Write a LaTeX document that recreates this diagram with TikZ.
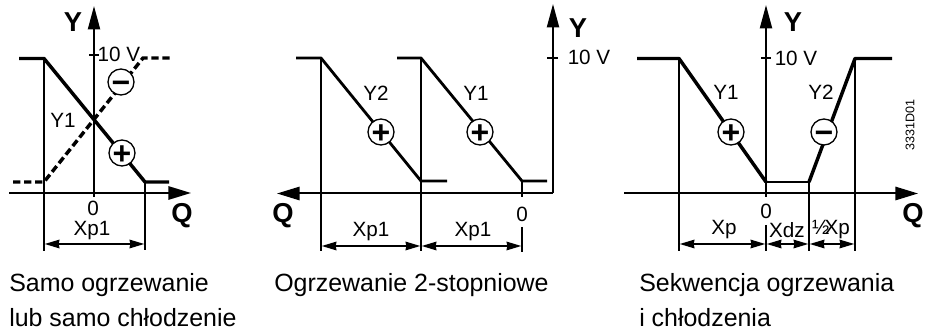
\documentclass[tikz,border=0pt]{standalone}
\usepackage{fontspec}
\setmainfont{Liberation Sans}
\usetikzlibrary{arrows.meta}
\newcommand{\signglyph}[1]{\raisebox{-8.3pt}[0pt][0pt]{#1}}
\tikzset{
  axis/.style={line width=1.5pt,-{Triangle[length=17pt,width=10pt]}},
  axisb/.style={line width=1.5pt,-{Triangle[length=17.5pt,width=9pt]}},
  guide/.style={line width=1.3pt},
  curve/.style={line width=2.6pt,line cap=butt,line join=round},
  thin curve/.style={line width=2.1pt,line join=round},
  dcurve/.style={line width=2.6pt,dash pattern=on 5.5pt off 2.75pt},
  dim/.style={line width=1pt,{Stealth[length=11pt,width=6.5pt,inset=0.6pt]}-{Stealth[length=11pt,width=6.5pt,inset=0.6pt]},shorten <=0.6pt,shorten >=0.6pt},
  sign/.style={circle,draw,fill=white,line width=1pt,minimum size=19.5pt,inner sep=0pt,font=\fontsize{24}{24}\selectfont\bfseries},
  lab/.style={inner sep=0pt,font=\fontsize{15.5}{17}\selectfont},
  big/.style={inner sep=0pt,font=\fontsize{20.5}{22}\selectfont\bfseries},
  captext/.style={inner sep=0pt,anchor=base west,font=\fontsize{18.7}{22}\selectfont}
}
\begin{document}
\begin{tikzpicture}[x=0.75pt,y=-0.75pt]
\useasboundingbox (0,0) rectangle (928,334);
% ---------- panel 1
\coordinate (a1) at (94,197); \coordinate (a2) at (94,6);
\coordinate (a3) at (9,193); \coordinate (a4) at (191,193);
\coordinate (t1) at (89,55); \coordinate (t2) at (99,55);
\coordinate (v1a) at (44,58); \coordinate (v1b) at (44,251);
\coordinate (v2a) at (145,182); \coordinate (v2b) at (145,250);
\coordinate (c1) at (19,58.5); \coordinate (c2) at (44,58.5);
\coordinate (c3) at (145,182); \coordinate (c4) at (169,182);
\coordinate (d1) at (13,182); \coordinate (d2) at (44,182);
\coordinate (d3) at (143,58); \coordinate (d4) at (170,58);
\draw[axis] (a3) -- (a4);
\draw[axisb] (a1) -- (a2);
\draw[guide] (t1) -- (t2);
\draw[guide] (v1a) -- (v1b);
\draw[guide] (v2a) -- (v2b);
\draw[curve] (c1) -- (c2) -- (c3) -- (c4);
\draw[dcurve] (d1) -- (d2) -- (d3) -- (d4);
\coordinate (dm1) at (44,244); \coordinate (dm2) at (145,244);
\draw[dim] (dm1) -- (dm2);
\node[sign] (s1) at (121,82) {\signglyph{−}};
\node[sign] (s2) at (122,153) {\signglyph{+}};
\node[big] (y1) at (73,22) {Y};
\node[lab] (l1) at (119,54) {10 V};
\node[lab] (l2) at (63,120) {Y1};
\node[lab] (l3) at (93,208) {0};
\node[lab] (l4) at (92,231) {Xp1};
\node[big] (q1) at (182,216) {Q};
% ---------- panel 2
\coordinate (b1) at (553,193.5); \coordinate (b2) at (553,4);
\coordinate (b3) at (553,193.5); \coordinate (b4) at (277,193.5);
\coordinate (bt1) at (547,58); \coordinate (bt2) at (558,58);
\coordinate (w1a) at (321,58); \coordinate (w1b) at (321,251);
\coordinate (w2a) at (421,58); \coordinate (w2b) at (421,251);
\coordinate (w3a) at (522,181); \coordinate (w3b) at (522,197);
\coordinate (w3c) at (522,227); \coordinate (w3d) at (522,252);
\coordinate (e1) at (296,58); \coordinate (e2) at (321,58);
\coordinate (e3) at (421,181); \coordinate (e4) at (447,181);
\coordinate (f1) at (397,58); \coordinate (f2) at (421,58);
\coordinate (f3) at (522,181); \coordinate (f4) at (547,181);
\draw[axis] (b3) -- (b4);
\draw[axisb] (b1) -- (b2);
\draw[guide] (bt1) -- (bt2);
\draw[guide] (w1a) -- (w1b);
\draw[guide] (w2a) -- (w2b);
\draw[guide] (w3a) -- (w3b);
\draw[guide] (w3c) -- (w3d);
\draw[thin curve] (e1) -- (e2) -- (e3) -- (e4);
\draw[thin curve] (f1) -- (f2) -- (f3) -- (f4);
\coordinate (dn1) at (321,246); \coordinate (dn2) at (421,246); \coordinate (dn3) at (522,246);
\draw[dim] (dn1) -- (dn2);
\draw[dim] (dn2) -- (dn3);
\node[sign] (s3) at (381,132) {\signglyph{+}};
\node[sign] (s4) at (480,132) {\signglyph{+}};
\node[big] (y2) at (578,28) {Y};
\node[lab] (l5) at (589,57) {10 V};
\node[lab] (l6) at (376,93) {Y2};
\node[lab] (l7) at (476,93) {Y1};
\node[lab] (l8) at (522,214) {0};
\node[lab] (l9) at (371,232) {Xp1};
\node[lab] (l10) at (473,232) {Xp1};
\node[big] (q2) at (283,216) {Q};
% ---------- panel 3
\coordinate (g1) at (766,197); \coordinate (g2) at (766,5);
\coordinate (g3) at (624,193.5); \coordinate (g4) at (918,193.5);
\coordinate (gt1) at (761,58); \coordinate (gt2) at (771,58);
\coordinate (x1a) at (679,58); \coordinate (x1b) at (679,251);
\coordinate (x2a) at (766,225); \coordinate (x2b) at (766,251);
\coordinate (x3a) at (809,182); \coordinate (x3b) at (809,251);
\coordinate (x4a) at (855,58); \coordinate (x4b) at (855,251);
\coordinate (h1) at (637,58.5); \coordinate (h2) at (679,58.5);
\coordinate (h3) at (766,182); \coordinate (h4) at (809,182);
\coordinate (h5) at (855,58.5); \coordinate (h6) at (892,58.5);
\draw[axis] (g3) -- (g4);
\draw[axisb] (g1) -- (g2);
\draw[guide] (gt1) -- (gt2);
\draw[guide] (x1a) -- (x1b);
\draw[guide] (x2a) -- (x2b);
\draw[guide] (x3a) -- (x3b);
\draw[guide] (x4a) -- (x4b);
\draw[curve] (h1) -- (h2) -- (h3);
\draw[guide] (h3) -- (h4);
\draw[curve] (h4) -- (h5) -- (h6);
\coordinate (do1) at (679,244); \coordinate (do2) at (766,244);
\coordinate (do3) at (809,244); \coordinate (do4) at (855,244);
\draw[dim] (do1) -- (do2);
\draw[dim] (do2) -- (do3);
\draw[dim] (do3) -- (do4);
\node[sign] (s5) at (731,132) {\signglyph{+}};
\node[sign] (s6) at (824,132) {\signglyph{−}};
\node[big] (y3) at (793,22) {Y};
\node[lab] (l11) at (796,58) {10 V};
\node[lab] (l12) at (726,92) {Y1};
\node[lab] (l13) at (821,92) {Y2};
\node[lab] (l14) at (766,211) {0};
\node[lab] (l15) at (724,230) {Xp};
\node[lab] (l16) at (787,230) {Xdz};
\node[lab] (l17) at (831,230) {½\kern-3.5pt Xp};
\node[big] (q3) at (913,216) {Q};
\node[inner sep=0pt,rotate=90,font=\fontsize{9.4}{11}\selectfont] (code) at (910,125) {3331D01};
% ---------- captions
\node[captext] (k1) at (9,292) {Samo ogrzewanie};
\node[captext] (k2) at (9,327) {lub samo chłodzenie};
\node[captext] (k3) at (274,292) {Ogrzewanie 2-stopniowe};
\node[captext] (k4) at (639,292) {Sekwencja ogrzewania};
\node[captext] (k5) at (639,327) {i chłodzenia};
\end{tikzpicture}
\end{document}
